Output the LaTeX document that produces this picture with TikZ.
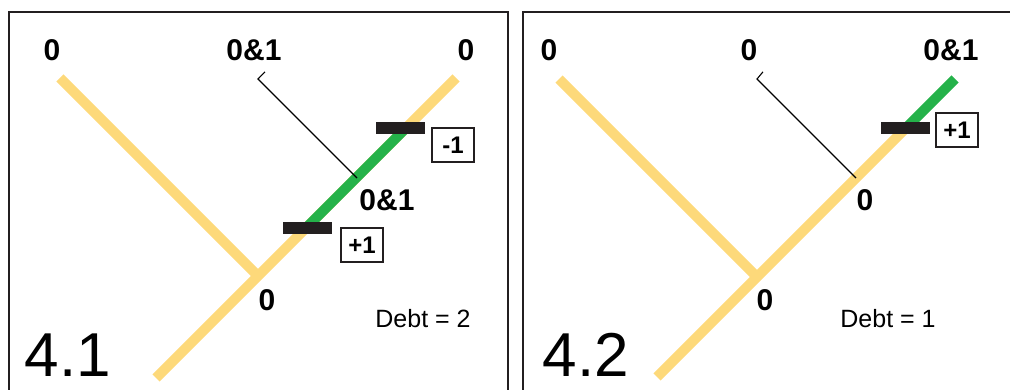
\documentclass[tikz,border=0pt]{standalone}
\usepackage{fontspec}
\setmainfont{Liberation Sans}
\usepackage{xcolor}
\usepackage{tikz}
\usetikzlibrary{calc,positioning}
\definecolor{cTrunk}{HTML}{FDD97A}
\definecolor{cGain}{HTML}{25B24A}
\definecolor{cFrame}{HTML}{231F20}

\begin{document}
\begin{tikzpicture}[x=1pt, y=-1pt,
  frame/.style={draw=cFrame, line width=1.6pt},
  branch/.style={cTrunk, line width=10pt, line cap=butt},
  gain/.style={cGain, line width=10pt, line cap=butt},
  bar/.style={fill=cFrame, draw=none, minimum width=49pt, minimum height=12pt, inner sep=0pt},
  lbl/.style={font=\fontsize{30}{30}\selectfont\bfseries, inner sep=0pt},
  cost/.style={draw=cFrame, line width=1.2pt, font=\fontsize{24}{24}\selectfont\bfseries,
               minimum width=42pt, minimum height=34pt, inner sep=0pt},
  debt/.style={font=\fontsize{25}{25}\selectfont, inner sep=0pt},
  panel/.style={font=\fontsize{62}{62}\selectfont, inner sep=0pt},
  callout/.style={draw=black, line width=1.1pt}]

  \useasboundingbox (0,0) rectangle (1010,390);

  % Panel 4.1: frame
  \draw[frame] (9,400) -- (9,12) -- (508,12) -- (508,400);
  \coordinate (tlA) at (60,78);
  \coordinate (jA)  at (258,276);
  \coordinate (blA) at (156,378);
  \coordinate (trA) at (456,78);
  \coordinate (loA) at (306,228);
  \coordinate (hiA) at (406,128);
  \draw[branch] (tlA) -- (jA);
  \draw[branch] (blA) -- (trA);
  \draw[gain] (loA) -- (hiA);
  \node[bar] (barloA) at (307,228) {};
  \node[bar] (barhiA) at (400,128) {};
  \node[cost] (plusA)  at (362,245) {+1};
  \node[cost] (minusA) at (453,145) {-1};

  \node[lbl] (leafA1) at (52,50)  {0};
  \node[lbl] (leafA2) at (254,50) {0\&1};
  \node[lbl] (leafA3) at (466,50) {0};
  \node[lbl] (midA)   at (387,200) {0\&1};
  \node[lbl] (rootA)  at (267,300) {0};
  \coordinate (hookA) at (258,79);
  \coordinate (tipA)  at (357,178);
  \draw[callout] ($(leafA2.south)+(11,11)$) -- (hookA) -- (tipA);
  \node[debt] (debtA) at (423,319) {Debt = 2};
  \node[panel] (numA) at (68,355) {4.1};

  % Panel 4.2: frame
  \draw[frame] (523,400) -- (523,12) -- (1020,12);
  \coordinate (tlB) at (559,79);
  \coordinate (jB)  at (757,277);
  \coordinate (blB) at (657,377);
  \coordinate (trB) at (955,79);
  \coordinate (loB) at (906,128);
  \draw[branch] (tlB) -- (jB);
  \draw[branch] (blB) -- (loB);
  \draw[gain] (loB) -- (trB);
  \node[bar] (barB) at (905,128) {};
  \node[cost] (plusB) at (957,130) {+1};

  \node[lbl] (leafB1) at (549,50) {0};
  \node[lbl] (leafB2) at (749,50) {0};
  \node[lbl] (leafB3) at (951,50) {0\&1};
  \node[lbl] (midB)   at (865,200) {0};
  \node[lbl] (rootB)  at (765,300) {0};
  \coordinate (hookB) at (757,79);
  \coordinate (tipB)  at (856,178);
  \draw[callout] ($(leafB2.south)+(14,11)$) -- (hookB) -- (tipB);
  \node[debt] (debtB) at (888,319) {Debt = 1};
  \node[panel] (numB) at (586,355) {4.2};
\end{tikzpicture}
\end{document}
